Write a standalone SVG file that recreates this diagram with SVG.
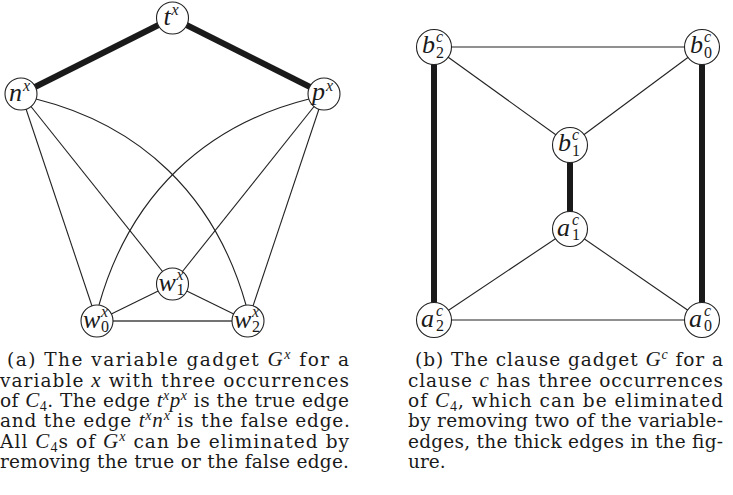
<svg xmlns="http://www.w3.org/2000/svg" width="733" height="495" viewBox="0 0 733 495">
<style>
.e{stroke:#222;stroke-width:1.1;fill:none}
.k{stroke:#1a1a1a;stroke-width:6}
.nd circle{fill:#fff;stroke:#222;stroke-width:1.1}
.m{font-family:"Liberation Serif",serif;font-style:italic;font-size:26px;fill:#1a1a1a}
.s{font-size:16px}
.up{font-style:normal}
.cap{font-family:"DejaVu Serif",serif;font-size:18.5px;fill:#1a1a1a}
.mi{font-family:"Liberation Serif",serif;font-style:italic;font-size:21px}
.sb{font-family:"Liberation Serif",serif;font-size:14px}
.sp{font-family:"Liberation Serif",serif;font-style:italic;font-size:14px}
</style>
<rect width="733" height="495" fill="#fff"/>
<g id="connectors">
  <line class="k" x1="172.5" y1="18" x2="21" y2="94"/>
  <line class="k" x1="172.5" y1="18" x2="324" y2="94"/>
  <line class="e" x1="21" y1="94" x2="97" y2="321"/>
  <line class="e" x1="21" y1="94" x2="172.5" y2="284"/>
  <line class="e" x1="324" y1="94" x2="248" y2="321"/>
  <line class="e" x1="324" y1="94" x2="172.5" y2="284"/>
  <path class="e" d="M36,99 C140,125 215,195 246,305"/>
  <path class="e" d="M309,99 C205,125 130,195 99,305"/>
  <line class="e" x1="97" y1="321" x2="172.5" y2="284"/>
  <line class="e" x1="248" y1="321" x2="172.5" y2="284"/>
  <line class="e" x1="97" y1="321" x2="248" y2="321" style="stroke-width:1.4;stroke:#444"/>
  <line class="e" x1="434" y1="47" x2="702" y2="47"/>
  <line class="e" x1="434" y1="47" x2="570" y2="145"/>
  <line class="e" x1="702" y1="47" x2="570" y2="145"/>
  <line class="e" x1="434" y1="320" x2="702" y2="320"/>
  <line class="e" x1="434" y1="320" x2="570" y2="229"/>
  <line class="e" x1="702" y1="320" x2="570" y2="229"/>
  <line class="k" x1="434" y1="47" x2="434" y2="320"/>
  <line class="k" x1="570" y1="145" x2="570" y2="229"/>
  <line class="k" x1="702" y1="47" x2="702" y2="320"/>
</g>
<g id="t" class="nd"><circle cx="172.5" cy="18" r="16"/><text class="m" x="163.5" y="25">t</text><text class="m s" x="171.5" y="15">x</text></g>
<g id="n" class="nd"><circle cx="21" cy="94" r="16"/><text class="m" x="9" y="101">n</text><text class="m s" x="23" y="91">x</text></g>
<g id="p" class="nd"><circle cx="324" cy="94" r="16"/><text class="m" x="312" y="100">p</text><text class="m s" x="326" y="91">x</text></g>
<g id="w1" class="nd"><circle cx="172.5" cy="284" r="16"/><text class="m" x="158.5" y="291">w</text><text class="m s" x="176.5" y="280">x</text><text class="m s up" x="176.5" y="295">1</text></g>
<g id="w0" class="nd"><circle cx="97" cy="321" r="16"/><text class="m" x="83" y="328">w</text><text class="m s" x="101" y="317">x</text><text class="m s up" x="101" y="332">0</text></g>
<g id="w2" class="nd"><circle cx="248" cy="321" r="16"/><text class="m" x="234" y="328">w</text><text class="m s" x="252" y="317">x</text><text class="m s up" x="252" y="332">2</text></g>
<g id="b2" class="nd"><circle cx="434" cy="47" r="17.5"/><text class="m" x="422" y="53">b</text><text class="m s" x="436" y="42">c</text><text class="m s up" x="436" y="58">2</text></g>
<g id="b0" class="nd"><circle cx="702" cy="47" r="17.5"/><text class="m" x="690" y="53">b</text><text class="m s" x="704" y="42">c</text><text class="m s up" x="704" y="58">0</text></g>
<g id="b1" class="nd"><circle cx="570" cy="145" r="17.5"/><text class="m" x="558" y="151">b</text><text class="m s" x="572" y="140">c</text><text class="m s up" x="572" y="156">1</text></g>
<g id="a1" class="nd"><circle cx="570" cy="229" r="17.5"/><text class="m" x="557" y="236">a</text><text class="m s" x="572" y="225">c</text><text class="m s up" x="572" y="240">1</text></g>
<g id="a2" class="nd"><circle cx="434" cy="320" r="17.5"/><text class="m" x="421" y="327">a</text><text class="m s" x="436" y="316">c</text><text class="m s up" x="436" y="331">2</text></g>
<g id="a0" class="nd"><circle cx="702" cy="320" r="17.5"/><text class="m" x="689" y="327">a</text><text class="m s" x="704" y="316">c</text><text class="m s up" x="704" y="331">0</text></g>
<g id="caption-a" class="cap">
  <text x="7" y="366" textLength="342" lengthAdjust="spacing">(a) The variable gadget <tspan class="mi">G</tspan><tspan class="sp" dy="-7">x</tspan><tspan dy="7"> for a</tspan></text>
  <text x="0" y="386.5" textLength="349" lengthAdjust="spacing">variable <tspan class="mi">x</tspan> with three occurrences</text>
  <text x="0" y="407" textLength="349" lengthAdjust="spacing">of <tspan class="mi">C</tspan><tspan class="sb" dy="4">4</tspan><tspan dy="-4">. The edge </tspan><tspan class="mi">t</tspan><tspan class="sp" dy="-7">x</tspan><tspan class="mi" dy="7">p</tspan><tspan class="sp" dy="-7">x</tspan><tspan dy="7"> is the true edge</tspan></text>
  <text x="0" y="427.3" textLength="350" lengthAdjust="spacing">and the edge <tspan class="mi">t</tspan><tspan class="sp" dy="-7">x</tspan><tspan class="mi" dy="7">n</tspan><tspan class="sp" dy="-7">x</tspan><tspan dy="7"> is the false edge.</tspan></text>
  <text x="0" y="447.7" textLength="349" lengthAdjust="spacing">All <tspan class="mi">C</tspan><tspan class="sb" dy="4">4</tspan><tspan dy="-4">s of </tspan><tspan class="mi">G</tspan><tspan class="sp" dy="-7">x</tspan><tspan dy="7"> can be eliminated by</tspan></text>
  <text x="0" y="468" textLength="349" lengthAdjust="spacing">removing the true or the false edge.</text>
</g>
<g id="caption-b" class="cap">
  <text x="415" y="366" textLength="308" lengthAdjust="spacing">(b) The clause gadget <tspan class="mi">G</tspan><tspan class="sp" dy="-7">c</tspan><tspan dy="7"> for a</tspan></text>
  <text x="408" y="386.5" textLength="315" lengthAdjust="spacing">clause <tspan class="mi">c</tspan> has three occurrences</text>
  <text x="408" y="407" textLength="315" lengthAdjust="spacing">of <tspan class="mi">C</tspan><tspan class="sb" dy="4">4</tspan><tspan dy="-4">, which can be eliminated</tspan></text>
  <text x="408" y="427.3" textLength="315" lengthAdjust="spacing">by removing two of the variable-</text>
  <text x="408" y="447.7" textLength="315" lengthAdjust="spacing">edges, the thick edges in the fig-</text>
  <text x="408" y="468">ure.</text>
</g>
</svg>
